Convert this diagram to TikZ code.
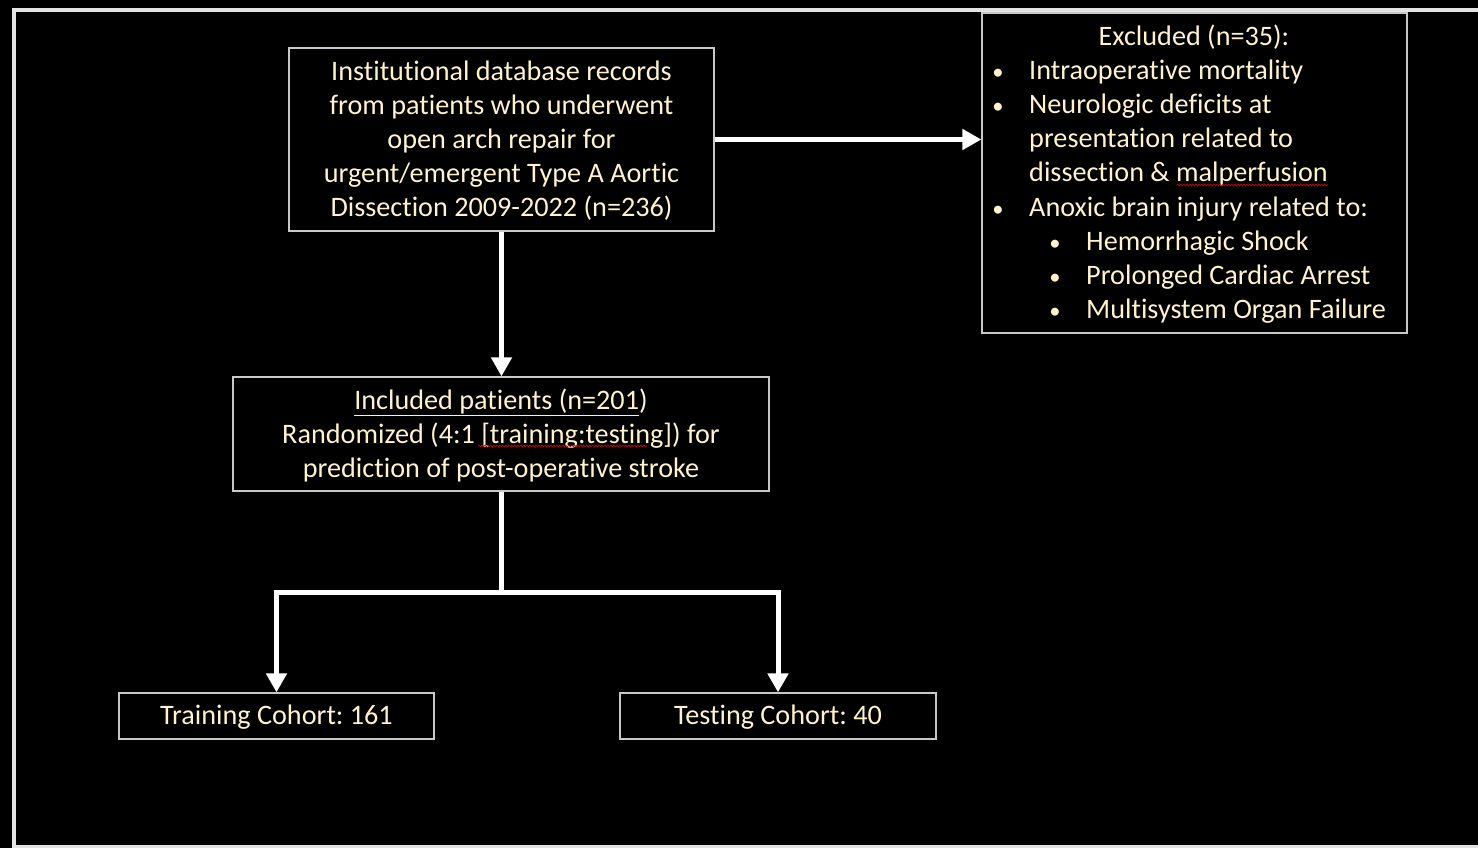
\documentclass[tikz,border=0pt]{standalone}
\usepackage{fontspec}
\setmainfont{Carlito}[Ligatures=NoCommon]
\frenchspacing
\usetikzlibrary{arrows.meta,decorations.pathmorphing}
\definecolor{txt}{HTML}{FFF2CC}
\definecolor{framecol}{HTML}{E3E3E3}
\definecolor{boxline}{HTML}{C8C8C8}
\newcommand{\blt}{\scalebox{0.8}{•}}
\begin{document}
\begin{tikzpicture}[x=1pt,y=-1pt,
  box/.style={draw=boxline, line width=1.2pt, align=center, inner sep=0pt},
  btxt/.style={text=txt, align=center, inner sep=0pt, font=\fontsize{28.2}{34}\selectfont},
  lbl/.style={text=txt, inner sep=0pt, anchor=base west, font=\fontsize{28.2}{34}\selectfont},
  arr/.style={draw=white, line width=5pt, -{Triangle[width=20pt,length=19pt]}},
  ln/.style={draw=white, line width=5pt},
  wavy/.style={draw=red!80!black, line width=0.7pt, decorate, decoration={snake, amplitude=0.8pt, segment length=3pt}}]
\fill[black] (0,0) rectangle (1478,848);
\useasboundingbox (0,0) rectangle (1478,848);
% slide frame
\draw[framecol, line width=4pt] (12,10) -- (1478,10);
\draw[framecol, line width=4pt] (14,8) -- (14,848);
\draw[framecol, line width=3pt] (12,846.5) -- (1478,846.5);

% boxes
\node[box, minimum width=425pt, minimum height=183pt] (src) at (501.5,139.5) {};
\node[btxt] (srct) at (501.5,141)
  {Institutional database records\\from patients who underwent\\open arch repair for\\urgent/emergent Type A Aortic\\Dissection 2009-2022 (n=236)};
\node[box, minimum width=425pt, minimum height=320pt] (excl) at (1194.5,173) {};
\node[box, minimum width=536pt, minimum height=114pt] (inc) at (501,434) {};
\node[btxt] (inct) at (501,435.5)
  {\underline{Included patients (n=201})\\Randomized (4:1 [training:testing]) for\\prediction of post-operative stroke};
\node[box, minimum width=315pt, minimum height=46pt] (train) at (276.5,716) {};
\node[btxt] (traint) at (276.5,717) {Training Cohort: 161};
\node[box, minimum width=316pt, minimum height=46pt] (test) at (778,716) {};
\node[btxt] (testt) at (778,717) {Testing Cohort: 40};

% excluded list
\node[lbl, anchor=base] (ex0) at (1194,46) {Excluded (n=35):};
\node[lbl, anchor=base] (b1) at (998,80) {\blt};
\node[lbl] (t1) at (1029,80) {Intraoperative mortality};
\node[lbl, anchor=base] (b2) at (998,114) {\blt};
\node[lbl] (t2) at (1029,114) {Neurologic deficits at};
\node[lbl] (t2b) at (1029,148) {presentation related to};
\node[lbl] (t2c) at (1029,182) {dissection \& malperfusion};
\node[lbl, anchor=base] (b3) at (998,216) {\blt};
\node[lbl] (t3) at (1029,216) {Anoxic brain injury related to:};
\node[lbl, anchor=base] (s1) at (1055,250) {\blt};
\node[lbl] (u1) at (1086,250) {Hemorrhagic Shock};
\node[lbl, anchor=base] (s2) at (1055,284) {\blt};
\node[lbl] (u2) at (1086,284) {Prolonged Cardiac Arrest};
\node[lbl, anchor=base] (s3) at (1055,318) {\blt};
\node[lbl] (u3) at (1086,318) {Multisystem Organ Failure};

% spell-check marks
\draw[wavy] (1177,185) -- (1328,185);
\draw[wavy] (478,446) -- (647,446);

% connectors
\coordinate (j) at (501,592);
\draw[arr] (src.east) -- (excl.west |- src.east);
\draw[arr] (src.south) -- (src.south |- inc.north);
\draw[ln] (inc.south) -- (j);
\draw[arr] (j) -| (train.north);
\draw[arr] (j) -| (test.north);
\end{tikzpicture}
\end{document}
